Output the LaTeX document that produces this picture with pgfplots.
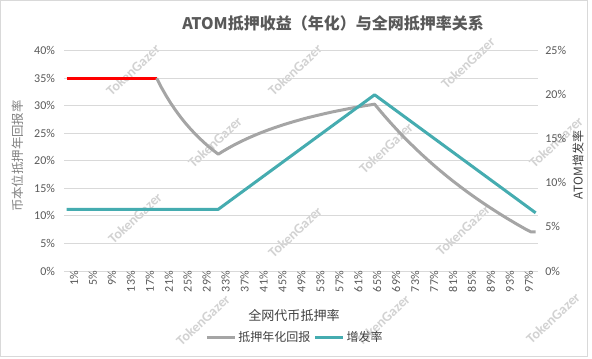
\documentclass[border=0pt]{standalone}
\usepackage{fontspec}
\setmainfont{Carlito}
\newfontfamily\cjk{Noto Sans CJK SC}
\usepackage{pgfplots}
\pgfplotsset{compat=1.18}
\definecolor{grayline}{HTML}{A5A5A5}
\definecolor{tealline}{HTML}{45ACB0}
\definecolor{gridc}{HTML}{D9D9D9}
\definecolor{txt}{HTML}{595959}
\definecolor{dtxt}{HTML}{404040}
\definecolor{ltxt}{HTML}{808080}
\definecolor{wm}{HTML}{D2D2D2}
\begin{document}
\begin{tikzpicture}
\begin{scope}[x=0.75pt,y=0.75pt]
\path (0,0) rectangle (592,358);
\draw[gridc, line width=0.75pt] (0.5,1.5) rectangle (587,357.5);
\foreach \X/\Y in {133/70,295/70,468/63,215/142,386/148,556/142,135/218,295/232,463/230,203/320,383/320,553/318}
  \node[rotate=43, text=wm, font=\bfseries\fontsize{10.5}{12}\selectfont, inner sep=0pt] at (\X,{358-\Y}) {TokenGazer};
\end{scope}
\begin{axis}[
  at={(48.225pt,65.25pt)}, anchor=south west, scale only axis,
  width=355.3pt, height=165.2pt,
  xmin=0.5, xmax=100.5, ymin=0, ymax=40,
  axis line style={draw=none},
  major tick length=0pt,
  /pgf/number format/assume math mode=true,
  xtick={1,5,...,97},
  xticklabel={\pgfmathprintnumber{\tick}\%},
  xticklabel style={rotate=90, anchor=east, inner sep=0pt, yshift=-5.5pt, font=\fontsize{9}{10}\selectfont, text=txt},
  ytick={0,5,...,40},
  yticklabel={\pgfmathprintnumber{\tick}\%},
  yticklabel style={anchor=east, inner sep=0pt, xshift=-6.8pt, font=\fontsize{9}{10}\selectfont, text=txt},
  ymajorgrids, grid style={gridc, line width=0.75pt},
  legend style={at={(0.487,-0.30)}, anchor=center, draw=none, fill=none,
    legend columns=2, font=\cjk\fontsize{9}{11}\selectfont, text=dtxt,
    inner sep=0pt, nodes={inner sep=1.5pt},
    /tikz/every even column/.append style={column sep=1pt}},
  legend image code/.code={\draw[#1] (0pt,0pt) -- (21pt,0pt);},
]
\addplot[red, line width=2.6pt, forget plot] coordinates {(1,35)(20,35)};
\addplot[grayline, line width=2.25pt, line join=round] coordinates {
(20,35.00)(21,33.33)(22,31.82)(23,30.43)(24,29.17)(25,28.00)(26,26.92)(27,25.93)(28,25.00)(29,24.14)(30,23.33)(31,22.58)(32,21.88)(33,21.21)(34,21.75)(35,22.25)(36,22.73)(37,23.18)(38,23.60)(39,24.01)(40,24.39)(41,24.76)(42,25.11)(43,25.44)(44,25.76)(45,26.06)(46,26.35)(47,26.63)(48,26.89)(49,27.15)(50,27.39)(51,27.63)(52,27.86)(53,28.07)(54,28.28)(55,28.48)(56,28.68)(57,28.87)(58,29.05)(59,29.22)(60,29.39)(61,29.56)(62,29.72)(63,29.87)(64,30.02)(65,30.16)(66,30.30)(67,29.26)(68,28.25)(69,27.27)(70,26.32)(71,25.39)(72,24.49)(73,23.62)(74,22.77)(75,21.94)(76,21.13)(77,20.35)(78,19.58)(79,18.83)(80,18.11)(81,17.40)(82,16.70)(83,16.03)(84,15.37)(85,14.72)(86,14.09)(87,13.48)(88,12.88)(89,12.29)(90,11.72)(91,11.16)(92,10.61)(93,10.07)(94,9.54)(95,9.03)(96,8.52)(97,8.03)(98,7.54)(99,7.10)(100,7.10)};
\addlegendentry{抵押年化回报}
\addlegendimage{tealline, line width=2.25pt}
\addlegendentry{增发率}
\end{axis}
\begin{axis}[
  at={(48.225pt,65.25pt)}, anchor=south west, scale only axis,
  width=355.3pt, height=165.2pt,
  xmin=0.5, xmax=100.5, ymin=0, ymax=25,
  hide x axis, axis y line*=right,
  axis line style={draw=none},
  major tick length=0pt,
  /pgf/number format/assume math mode=true,
  ytick={0,5,...,25},
  yticklabel={\pgfmathprintnumber{\tick}\%},
  yticklabel style={anchor=west, inner sep=0pt, xshift=5.3pt, font=\fontsize{9}{10}\selectfont, text=txt},
]
\addplot[tealline, line width=2.25pt, line join=round] coordinates {(1,7)(33,7)(66,20)(100,6.6)};
\end{axis}
\begin{scope}[x=0.75pt,y=0.75pt]
\node[font=\cjk\bfseries\fontsize{12}{14}\selectfont, text=txt] at (333,{358-23}) {ATOM抵押收益（年化）与全网抵押率关系};
\node[rotate=90, font=\cjk\fontsize{9.3}{11}\selectfont, text=ltxt] at (18,{358-156}) {币本位抵押年回报率};
\node[rotate=90, fill=white, inner sep=1pt, font=\cjk\fontsize{9}{11}\selectfont, text=dtxt] at (578,{358-165}) {ATOM增发率};
\node[font=\cjk\fontsize{9.8}{11}\selectfont, text=dtxt] at (294,{358-315}) {全网代币抵押率};
\end{scope}
\end{tikzpicture}
\end{document}
